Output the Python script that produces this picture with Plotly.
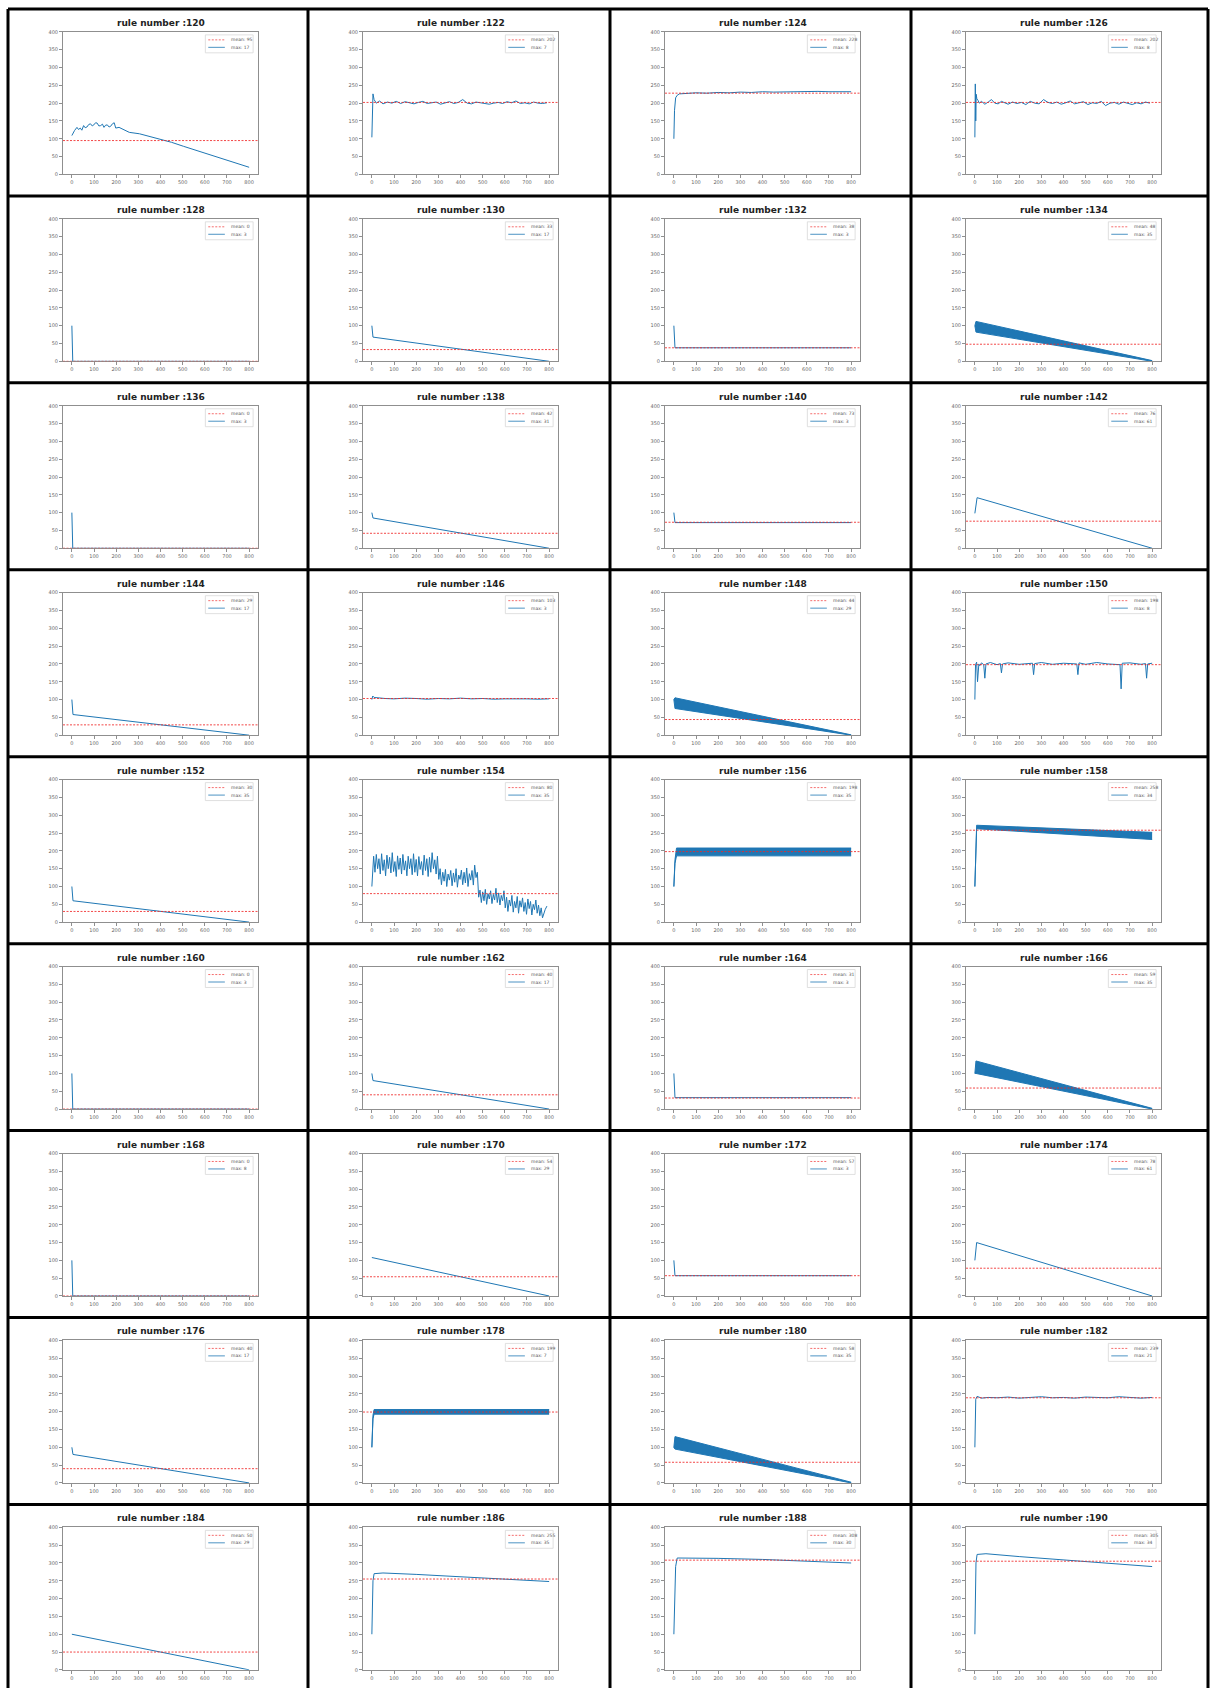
import plotly.graph_objects as go

# ---------------- data ----------------
rules = [120, 122, 124, 126, 128, 130, 132, 134, 136, 138, 140, 142,
         144, 146, 148, 150, 152, 154, 156, 158, 160, 162, 164, 166,
         168, 170, 172, 174, 176, 178, 180, 182, 184, 186, 188, 190]
mean_vals = [95, 202, 228, 202, 0, 33, 38, 48, 0, 42, 73, 76,
             29, 103, 44, 198, 30, 80, 198, 258, 0, 40, 31, 59,
             0, 54, 57, 78, 40, 199, 58, 239, 50, 255, 308, 305]
max_vals = [17, 7, 8, 8, 3, 17, 3, 35, 3, 31, 3, 61,
            17, 3, 29, 8, 35, 35, 35, 34, 3, 17, 3, 35,
            8, 29, 3, 61, 17, 7, 35, 21, 29, 35, 30, 34]
x_ticks = [0, 100, 200, 300, 400, 500, 600, 700, 800]
y_ticks = [0, 50, 100, 150, 200, 250, 300, 350, 400]

# line series (key points)
r120_x = [0, 6, 12, 23, 30, 38, 45, 53, 60, 68, 76, 84, 92, 99, 107, 114, 122, 130, 138, 145, 152, 160, 168, 175, 183, 191, 198, 213, 236, 259, 305, 351, 396, 450, 503, 564, 625, 686, 747, 800]
r120_y = [109, 118, 123, 132, 126, 130, 124, 137, 131, 133, 140, 142, 136, 139, 145, 144, 136, 137, 141, 132, 138, 139, 133, 135, 142, 145, 130, 132, 126, 118, 114, 107, 100, 90, 79, 67, 55, 44, 32, 20]
r122_x = [0, 5, 10, 20, 35, 50, 70, 90, 110, 130, 150, 170, 190, 210, 230, 250, 270, 290, 310, 330, 350, 370, 390, 410, 430, 450, 470, 490, 510, 530, 550, 570, 590, 610, 630, 650, 670, 690, 710, 730, 750, 770, 790]
r122_y = [104, 226, 210, 200, 206, 198, 203, 200, 205, 199, 204, 201, 198, 202, 205, 199, 201, 203, 197, 200, 204, 199, 202, 210, 200, 198, 203, 201, 199, 197, 200, 202, 199, 204, 201, 206, 199, 201, 198, 203, 200, 199, 201]
r124_x = [0, 3, 8, 15, 25, 50, 100, 150, 200, 250, 300, 350, 400, 450, 500, 550, 600, 650, 700, 750, 800]
r124_y = [100, 180, 215, 222, 226, 227, 229, 228, 230, 229, 231, 230, 232, 231, 232, 233, 232, 233, 232, 233, 232]
r126_x = [0, 2, 4, 6, 9, 14, 20, 30, 45, 60, 75, 90, 105, 120, 135, 150, 170, 190, 210, 230, 250, 270, 290, 310, 330, 350, 370, 390, 410, 430, 450, 470, 490, 510, 530, 550, 570, 590, 610, 630, 650, 670, 690, 710, 730, 750, 770, 790]
r126_y = [104, 254, 150, 225, 212, 208, 200, 205, 197, 203, 210, 200, 198, 205, 201, 197, 203, 199, 202, 196, 205, 200, 198, 210, 202, 199, 203, 197, 201, 206, 198, 200, 204, 196, 201, 199, 205, 193, 200, 202, 197, 203, 199, 196, 201, 198, 203, 200]
r128_x = [0, 4, 800]
r128_y = [100, 0, 0]
r130_x = [0, 5, 800]
r130_y = [100, 68, 0]
r132_x = [0, 5, 800]
r132_y = [100, 38, 38]
r136_x = [0, 4, 800]
r136_y = [100, 0, 0]
r138_x = [0, 5, 800]
r138_y = [100, 85, 0]
r140_x = [0, 5, 800]
r140_y = [100, 72, 72]
r142_x = [0, 10, 800]
r142_y = [98, 142, 0]
r144_x = [0, 5, 800]
r144_y = [100, 58, 0]
r146_x = [0, 4, 10, 30, 60, 100, 150, 200, 250, 300, 350, 400, 450, 500, 550, 600, 650, 700, 750, 800]
r146_y = [100, 110, 106, 104, 103, 102, 104, 103, 101, 103, 102, 104, 102, 103, 101, 102, 103, 102, 101, 102]
r150_x = [0, 3, 8, 12, 18, 22, 30, 40, 45, 50, 70, 100, 115, 120, 125, 150, 200, 260, 265, 270, 300, 350, 400, 460, 465, 470, 500, 550, 600, 655, 660, 665, 700, 750, 770, 775, 780, 800]
r150_y = [100, 198, 205, 150, 200, 195, 203, 198, 160, 200, 204, 198, 201, 175, 200, 203, 199, 202, 170, 201, 204, 199, 202, 200, 170, 203, 199, 204, 200, 198, 130, 202, 203, 199, 201, 160, 200, 202]
r152_x = [0, 5, 800]
r152_y = [100, 60, 0]
r154_x = [0, 4, 8, 14, 20, 26, 32, 38, 44, 50, 56, 62, 68, 74, 80, 86, 92, 98, 104, 110, 116, 122, 128, 134, 140, 146, 152, 158, 164, 170, 176, 182, 188, 194, 200, 206, 212, 218, 224, 230, 236, 242, 248, 254, 260, 266, 272, 278, 284, 290, 296,
          302, 308, 314, 320, 326, 332, 338, 344, 350, 356, 362, 368, 374, 380, 386, 392, 398, 404, 410, 416, 422, 428, 434, 440, 446, 452, 458, 464, 470, 476,
          482, 488, 494, 500, 506, 512, 518, 524, 530, 536, 542, 548, 554, 560, 566, 572, 578, 584, 590, 596,
          602, 608, 614, 620, 626, 632, 638, 644, 650, 656, 662, 668, 674, 680, 686, 692, 698, 704, 710, 716, 722, 728, 734, 740, 746, 752, 758, 764, 770, 776, 782, 790]
r154_y = [100, 150, 185, 140, 190, 150, 178, 135, 192, 145, 175, 130, 188, 150, 182, 138, 195, 142, 170, 128, 186, 148, 180, 135, 190, 146, 172, 130, 185, 150, 178, 133, 192, 140, 176, 130, 184, 148, 170, 132, 188, 145, 178, 128, 182, 140, 195, 150, 175, 135, 185,
          120, 150, 105, 140, 115, 148, 100, 135, 118, 145, 102, 138, 112, 150, 98, 132, 120, 146, 105, 140, 110, 152, 100, 136, 118, 145, 104, 160, 125, 140,
          70, 90, 55, 85, 60, 92, 50, 80, 65, 88, 52, 78, 62, 95, 55, 82, 48, 75, 60, 88,
          40, 70, 30, 62, 45, 75, 28, 58, 40, 72, 25, 60, 42, 68, 30, 55, 22, 65, 38, 58, 20, 50, 35, 62, 25, 48, 18, 40, 12, 25, 35, 45]
r160_x = [0, 4, 800]
r160_y = [100, 0, 0]
r162_x = [0, 5, 800]
r162_y = [100, 80, 0]
r164_x = [0, 5, 800]
r164_y = [100, 32, 32]
r168_x = [0, 4, 800]
r168_y = [100, 0, 0]
r170_x = [0, 800]
r170_y = [108, 0]
r172_x = [0, 5, 800]
r172_y = [100, 57, 57]
r174_x = [0, 8, 800]
r174_y = [100, 150, 0]
r176_x = [0, 5, 800]
r176_y = [100, 80, 0]
r182_x = [0, 4, 10, 30, 60, 100, 150, 200, 250, 300, 350, 400, 450, 500, 550, 600, 650, 700, 750, 800]
r182_y = [100, 235, 243, 238, 240, 239, 241, 238, 240, 242, 239, 240, 238, 241, 240, 239, 242, 240, 238, 240]
r184_x = [0, 800]
r184_y = [100, 0]
r186_x = [0, 5, 10, 50, 200, 400, 600, 800]
r186_y = [100, 250, 270, 272, 268, 262, 255, 248]
r188_x = [0, 3, 8, 15, 50, 200, 400, 600, 800]
r188_y = [100, 200, 290, 314, 314, 313, 310, 305, 300]
r190_x = [0, 5, 10, 50, 200, 400, 600, 800]
r190_y = [100, 300, 324, 326, 318, 308, 298, 290]

# band series (upper / lower envelopes of fast oscillation)
b134_x = [0, 5, 800]
b134_hi = [100, 112, 2]
b134_lo = [100, 82, 0]
b148_x = [0, 5, 800]
b148_hi = [100, 105, 1]
b148_lo = [100, 75, 0]
b156_x = [0, 5, 12, 800]
b156_hi = [100, 175, 208, 208]
b156_lo = [100, 165, 186, 186]
b158_x = [0, 4, 8, 800]
b158_hi = [100, 200, 272, 252]
b158_lo = [100, 190, 262, 232]
b166_x = [0, 5, 800]
b166_hi = [100, 135, 2]
b166_lo = [100, 100, 0]
b178_x = [0, 5, 10, 800]
b178_hi = [100, 190, 206, 206]
b178_lo = [100, 180, 193, 193]
b180_x = [0, 5, 800]
b180_hi = [100, 130, 2]
b180_lo = [100, 95, 0]

lines = {120: (r120_x, r120_y), 122: (r122_x, r122_y), 124: (r124_x, r124_y), 126: (r126_x, r126_y),
         128: (r128_x, r128_y), 130: (r130_x, r130_y), 132: (r132_x, r132_y), 136: (r136_x, r136_y),
         138: (r138_x, r138_y), 140: (r140_x, r140_y), 142: (r142_x, r142_y), 144: (r144_x, r144_y),
         146: (r146_x, r146_y), 150: (r150_x, r150_y), 152: (r152_x, r152_y), 154: (r154_x, r154_y),
         160: (r160_x, r160_y), 162: (r162_x, r162_y), 164: (r164_x, r164_y), 168: (r168_x, r168_y),
         170: (r170_x, r170_y), 172: (r172_x, r172_y), 174: (r174_x, r174_y), 176: (r176_x, r176_y),
         182: (r182_x, r182_y), 184: (r184_x, r184_y), 186: (r186_x, r186_y), 188: (r188_x, r188_y),
         190: (r190_x, r190_y)}
bands = {134: (b134_x, b134_hi, b134_lo), 148: (b148_x, b148_hi, b148_lo), 156: (b156_x, b156_hi, b156_lo),
         158: (b158_x, b158_hi, b158_lo), 166: (b166_x, b166_hi, b166_lo), 178: (b178_x, b178_hi, b178_lo),
         180: (b180_x, b180_hi, b180_lo)}

# ---------------- layout ----------------
W, H = 1210, 1691
BLUE = '#1f77b4'
RED = 'rgba(240,40,40,0.85)'
RED_DASH = '2px,1.5px'
col_borders = [8, 308, 610, 911, 1208]
row_top0, row_pitch = 6, 187.6
AX_L, AX_R, AX_T, AX_B = 55, 250, 23, 166
FONT = 'DejaVu Sans'

fig = go.Figure()
shapes, annotations = [], []
lay = {}

for i, rule in enumerate(rules):
    r, c = divmod(i, 4)
    k = i + 1
    sfx = '' if k == 1 else str(k)
    xref, yref = 'x' + sfx, 'y' + sfx
    cell_top = row_top0 + r * row_pitch
    left = col_borders[c] + AX_L
    right = col_borders[c] + AX_R
    top = cell_top + AX_T
    bottom = cell_top + AX_B
    wpx = right - left
    axstyle = dict(showline=True, mirror=True, linecolor='#8f8f8f', linewidth=1,
                   ticks='outside', ticklen=3, tickwidth=1, tickcolor='#8f8f8f',
                   tickfont=dict(size=5, color='#666666', family=FONT),
                   showgrid=False, zeroline=False, fixedrange=True)
    lay['xaxis' + sfx] = dict(domain=[left / W, right / W], anchor=yref, range=[-40, 840],
                              tickvals=x_ticks, ticktext=[str(v) for v in x_ticks], **axstyle)
    lay['yaxis' + sfx] = dict(domain=[1 - bottom / H, 1 - top / H], anchor=xref, range=[0, 400],
                              tickvals=y_ticks, ticktext=[str(v) for v in y_ticks], **axstyle)

    # data
    if rule in bands:
        bx, hi, lo = bands[rule]
        fig.add_trace(go.Scatter(x=bx, y=lo, mode='lines', line=dict(color=BLUE, width=1),
                                 xaxis=xref, yaxis=yref, showlegend=False, hoverinfo='skip'))
        fig.add_trace(go.Scatter(x=bx, y=hi, mode='lines', line=dict(color=BLUE, width=1),
                                 fill='tonexty', fillcolor=BLUE,
                                 xaxis=xref, yaxis=yref, showlegend=False, hoverinfo='skip'))
    else:
        lx, ly = lines[rule]
        fig.add_trace(go.Scatter(x=lx, y=ly, mode='lines', line=dict(color=BLUE, width=1),
                                 xaxis=xref, yaxis=yref, showlegend=False, hoverinfo='skip'))

    # mean line
    shapes.append(dict(type='line', xref=xref + ' domain', yref=yref, x0=0, x1=1,
                       y0=mean_vals[i], y1=mean_vals[i],
                       line=dict(color=RED, width=1, dash=RED_DASH)))

    # title
    annotations.append(dict(text='<b>rule number :%d</b>' % rule, xref='paper', yref='paper',
                            x=(left + right) / 2 / W, y=1 - (top - 2) / H,
                            xanchor='center', yanchor='bottom', showarrow=False,
                            font=dict(size=9, color='#222222', family=FONT)))

    # legend (drawn manually, upper right inside axes)
    lx0, lx1 = left + 0.73 * wpx, left + 0.975 * wpx
    shapes.append(dict(type='rect', xref='paper', yref='paper',
                       x0=lx0 / W, x1=lx1 / W, y0=1 - (top + 21) / H, y1=1 - (top + 3) / H,
                       line=dict(color='#d8d8d8', width=0.8), fillcolor='rgba(255,255,255,0.8)'))
    for j, (txt, col, dash) in enumerate([('mean: %d' % mean_vals[i], RED, RED_DASH),
                                          ('max: %d' % max_vals[i], BLUE, 'solid')]):
        yy = top + 8 + j * 7.5
        shapes.append(dict(type='line', xref='paper', yref='paper',
                           x0=(left + 0.745 * wpx) / W, x1=(left + 0.83 * wpx) / W,
                           y0=1 - yy / H, y1=1 - yy / H, line=dict(color=col, width=0.8, dash=dash)))
        annotations.append(dict(text=txt, xref='paper', yref='paper',
                                x=(left + 0.85 * wpx) / W, y=1 - yy / H,
                                xanchor='left', yanchor='middle', showarrow=False,
                                font=dict(size=4.5, color='#555555', family=FONT)))

# cell borders (black grid)
for xb in col_borders:
    shapes.append(dict(type='line', xref='paper', yref='paper', x0=xb / W, x1=xb / W,
                       y0=0, y1=1 - row_top0 / H, line=dict(color='black', width=3)))
for rr in range(10):
    yb = row_top0 + rr * row_pitch
    if yb > H:
        break
    shapes.append(dict(type='line', xref='paper', yref='paper', x0=col_borders[0] / W, x1=col_borders[-1] / W,
                       y0=1 - yb / H, y1=1 - yb / H, line=dict(color='black', width=3)))

fig.update_layout(width=W, height=H, margin=dict(l=0, r=0, t=0, b=0),
                  paper_bgcolor='white', plot_bgcolor='white', showlegend=False,
                  shapes=shapes, annotations=annotations, **lay)

fig.write_html('out.html')
